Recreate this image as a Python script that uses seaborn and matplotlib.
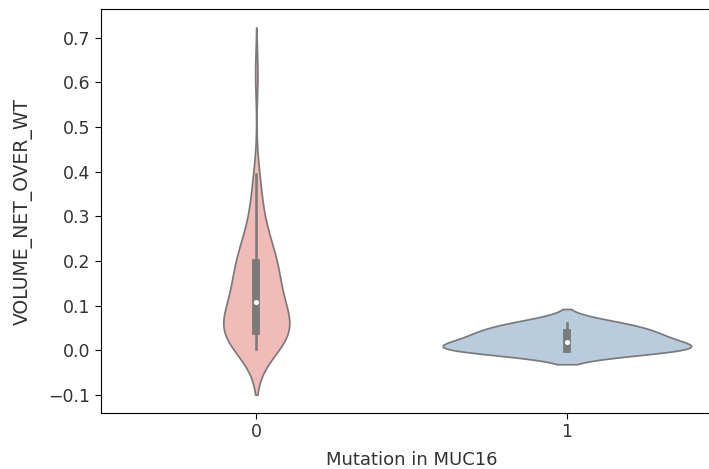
import pandas as pd
import matplotlib
matplotlib.use("Agg")
import matplotlib.pyplot as plt
import seaborn as sns

# volume values (group 0 = no mutation, group 1 = mutation)
group0 = [0.004, 0.008, 0.012, 0.015, 0.018, 0.021, 0.024, 0.027, 0.029, 0.031,
          0.033, 0.035, 0.037, 0.039, 0.041, 0.043, 0.046, 0.050, 0.054, 0.058,
          0.062, 0.066, 0.070, 0.074, 0.078, 0.083, 0.088, 0.093, 0.098, 0.104,
          0.112, 0.118, 0.124, 0.130, 0.136, 0.142, 0.148, 0.154, 0.160, 0.166,
          0.172, 0.178, 0.184, 0.189, 0.194, 0.202, 0.208, 0.214, 0.220, 0.228,
          0.236, 0.246, 0.258, 0.272, 0.290, 0.310, 0.335, 0.365, 0.394, 0.620]
group1 = [0.0, 0.0, 0.004, 0.014, 0.026, 0.036, 0.048, 0.062]

yticks = [-0.1, 0.0, 0.1, 0.2, 0.3, 0.4, 0.5, 0.6, 0.7]

df = pd.DataFrame({
    "Mutation in MUC16": [0] * len(group0) + [1] * len(group1),
    "VOLUME_NET_OVER_WT": group0 + group1,
})

fig = plt.figure(figsize=(7.09, 4.69), dpi=100)
# the original is cropped on the right, so the axes run past the figure edge
ax = fig.add_axes([0.1425, 0.1194, 0.876, 0.861])

sns.violinplot(data=df, x="Mutation in MUC16", y="VOLUME_NET_OVER_WT",
               hue="Mutation in MUC16", palette="Pastel1", legend=False,
               common_norm=True, inner_kws=dict(marker="o", markersize=2.5),
               ax=ax)

ax.set_yticks(yticks)
ax.set_xlabel("Mutation in MUC16", fontsize=13, color="#333333", labelpad=7)
ax.set_ylabel("VOLUME_NET_OVER_WT", fontsize=13.5, color="#333333", labelpad=11)
ax.tick_params(labelsize=12.5, length=4.5, pad=3, labelcolor="#333333")

fig.savefig("out.png", dpi=100)
